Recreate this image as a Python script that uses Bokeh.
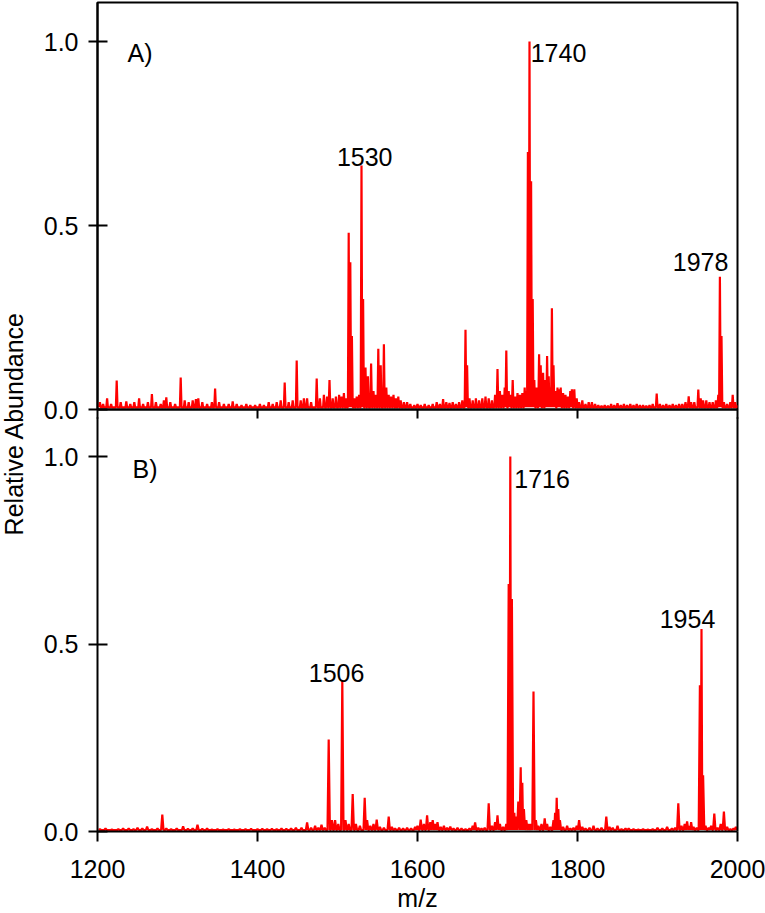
import math
from bokeh.plotting import figure
from bokeh.layouts import row, column
from bokeh.models import (Range1d, LinearAxis, NumeralTickFormatter, FixedTicker, Label,
                          CustomJSTickFormatter)
from bokeh.embed import file_html
from bokeh.resources import INLINE

# ---------------- data ----------------
x_ticks = [1200, 1400, 1600, 1800, 2000]
y_ticks = [0.0, 0.5, 1.0]
x_title = "m/z"
y_title = "Relative Abundance"

# Panel A peaks (m/z, relative abundance)
mz_a = [1203, 1207, 1212, 1217, 1224, 1229, 1236, 1241, 1246, 1252, 1257, 1263, 1268, 1273, 1279,
        1283, 1286, 1291, 1297, 1304, 1309, 1314, 1319, 1323, 1326, 1331, 1337, 1343, 1347, 1352,
        1358, 1364, 1369, 1374, 1380, 1386, 1391, 1397, 1403, 1408, 1414, 1419, 1424, 1429, 1434,
        1439, 1444, 1449, 1454, 1458, 1462, 1467, 1474, 1478, 1483, 1487, 1490, 1494, 1498, 1502,
        1505, 1508, 1511, 1514, 1516, 1518, 1521, 1524, 1527, 1530, 1532, 1535, 1538, 1542, 1545,
        1548, 1551, 1554, 1558, 1561, 1564, 1567, 1570, 1573, 1576, 1579, 1583, 1587, 1591, 1596,
        1600, 1604, 1609, 1614, 1619, 1624, 1628, 1632, 1636, 1640, 1644, 1648, 1652, 1656, 1660,
        1662, 1665, 1669, 1673, 1677, 1681, 1685, 1689, 1693, 1697, 1700, 1703, 1706, 1709, 1711,
        1714, 1716, 1719, 1722, 1725, 1728, 1731, 1734, 1736, 1738, 1740, 1742, 1744, 1746, 1749,
        1752, 1754, 1757, 1760, 1762, 1764, 1766, 1768, 1770, 1772, 1775, 1777, 1779, 1782, 1785,
        1788, 1791, 1793, 1796, 1799, 1802, 1806, 1810, 1814, 1818, 1822, 1826, 1830, 1834, 1838,
        1842, 1846, 1850, 1854, 1858, 1862, 1866, 1870, 1874, 1878, 1882, 1886, 1890, 1894, 1899,
        1903, 1907, 1911, 1915, 1919, 1923, 1927, 1931, 1935, 1939, 1942, 1946, 1951, 1954, 1957,
        1961, 1965, 1969, 1973, 1976, 1978, 1980, 1983, 1987, 1991, 1994, 1997, 2000]
int_a = [0.020, 0.015, 0.030, 0.015, 0.079, 0.020, 0.022, 0.015, 0.020, 0.030, 0.015, 0.020, 0.042, 0.020, 0.015,
         0.025, 0.033, 0.020, 0.015, 0.087, 0.025, 0.020, 0.025, 0.028, 0.030, 0.020, 0.015, 0.020, 0.057, 0.020,
         0.015, 0.015, 0.022, 0.015, 0.012, 0.015, 0.012, 0.012, 0.015, 0.012, 0.020, 0.015, 0.020, 0.025, 0.073,
         0.020, 0.025, 0.133, 0.025, 0.030, 0.030, 0.020, 0.084, 0.030, 0.040, 0.035, 0.080, 0.030, 0.035, 0.040,
         0.035, 0.045, 0.030, 0.480, 0.400, 0.200, 0.030, 0.035, 0.040, 0.663, 0.300, 0.114, 0.090, 0.125, 0.050,
         0.040, 0.165, 0.120, 0.177, 0.060, 0.040, 0.035, 0.040, 0.030, 0.035, 0.025, 0.020, 0.020, 0.015, 0.012,
         0.015, 0.012, 0.015, 0.012, 0.015, 0.020, 0.015, 0.028, 0.020, 0.018, 0.020, 0.015, 0.020, 0.025, 0.217,
         0.120, 0.030, 0.025, 0.030, 0.025, 0.030, 0.035, 0.030, 0.025, 0.040, 0.110, 0.050, 0.040, 0.060, 0.160,
         0.050, 0.040, 0.080, 0.035, 0.045, 0.040, 0.045, 0.060, 0.050, 0.700, 1.000, 0.620, 0.300, 0.080, 0.060,
         0.150, 0.120, 0.100, 0.080, 0.145, 0.090, 0.060, 0.275, 0.120, 0.050, 0.060, 0.055, 0.060, 0.045, 0.040,
         0.035, 0.050, 0.055, 0.055, 0.030, 0.020, 0.025, 0.015, 0.020, 0.020, 0.015, 0.012, 0.010, 0.012, 0.010,
         0.015, 0.012, 0.017, 0.012, 0.015, 0.012, 0.015, 0.012, 0.015, 0.012, 0.012, 0.010, 0.012, 0.015, 0.043,
         0.015, 0.012, 0.015, 0.012, 0.015, 0.012, 0.015, 0.015, 0.020, 0.036, 0.020, 0.020, 0.054, 0.030, 0.025,
         0.025, 0.020, 0.020, 0.025, 0.040, 0.361, 0.200, 0.020, 0.015, 0.020, 0.040, 0.020, 0.010]

# Panel B peaks (m/z, relative abundance)
mz_b = [1203, 1210, 1218, 1226, 1232, 1239, 1245, 1250, 1256, 1262, 1268, 1275, 1281, 1286, 1292,
        1299, 1307, 1313, 1319, 1325, 1331, 1337, 1343, 1350, 1357, 1364, 1371, 1378, 1385, 1392,
        1400, 1406, 1412, 1418, 1424, 1430, 1436, 1442, 1448, 1455, 1462, 1467, 1472, 1476, 1480,
        1484, 1489, 1493, 1497, 1501, 1506, 1510, 1514, 1519, 1523, 1528, 1534, 1537, 1541, 1545,
        1549, 1553, 1558, 1564, 1568, 1572, 1577, 1582, 1587, 1592, 1597, 1600, 1604, 1608, 1612,
        1616, 1619, 1622, 1625, 1629, 1633, 1637, 1641, 1645, 1650, 1655, 1660, 1665, 1669, 1672,
        1676, 1680, 1684, 1689, 1693, 1697, 1700, 1703, 1707, 1711, 1714, 1716, 1718, 1721, 1723,
        1726, 1729, 1731, 1733, 1736, 1739, 1742, 1745, 1748, 1751, 1755, 1759, 1762, 1766, 1770,
        1772, 1774, 1776, 1778, 1782, 1787, 1791, 1795, 1799, 1802, 1806, 1810, 1815, 1820, 1825,
        1830, 1836, 1840, 1844, 1850, 1855, 1860, 1864, 1870, 1876, 1882, 1888, 1894, 1900, 1906,
        1912, 1918, 1922, 1926, 1930, 1934, 1937, 1940, 1942, 1945, 1949, 1953, 1955, 1957, 1960,
        1964, 1967, 1971, 1975, 1979, 1983, 1987, 1991, 1995, 1998]
int_b = [0.006, 0.008, 0.005, 0.006, 0.008, 0.008, 0.006, 0.010, 0.008, 0.013, 0.006, 0.008, 0.045, 0.008, 0.006,
         0.008, 0.014, 0.007, 0.008, 0.018, 0.007, 0.008, 0.005, 0.006, 0.005, 0.006, 0.005, 0.006, 0.006, 0.007,
         0.006, 0.007, 0.006, 0.007, 0.006, 0.008, 0.007, 0.008, 0.010, 0.010, 0.024, 0.010, 0.015, 0.010, 0.018,
         0.010, 0.245, 0.030, 0.030, 0.020, 0.403, 0.030, 0.020, 0.100, 0.020, 0.015, 0.090, 0.030, 0.015, 0.020,
         0.032, 0.012, 0.010, 0.040, 0.012, 0.008, 0.010, 0.008, 0.010, 0.008, 0.012, 0.015, 0.032, 0.020, 0.043,
         0.025, 0.030, 0.020, 0.025, 0.012, 0.015, 0.010, 0.013, 0.008, 0.010, 0.008, 0.006, 0.008, 0.015, 0.024,
         0.010, 0.008, 0.010, 0.075, 0.015, 0.025, 0.043, 0.020, 0.012, 0.020, 0.660, 1.000, 0.620, 0.050, 0.040,
         0.080, 0.171, 0.130, 0.060, 0.030, 0.020, 0.020, 0.373, 0.030, 0.015, 0.020, 0.035, 0.020, 0.012, 0.030,
         0.050, 0.090, 0.060, 0.030, 0.012, 0.015, 0.008, 0.010, 0.015, 0.030, 0.012, 0.008, 0.010, 0.015, 0.008,
         0.010, 0.040, 0.012, 0.010, 0.015, 0.006, 0.008, 0.008, 0.006, 0.005, 0.006, 0.005, 0.006, 0.010, 0.008,
         0.012, 0.008, 0.010, 0.075, 0.015, 0.020, 0.027, 0.015, 0.025, 0.012, 0.010, 0.390, 0.540, 0.150, 0.015,
         0.010, 0.015, 0.048, 0.010, 0.020, 0.053, 0.012, 0.006, 0.008, 0.012]

# peak annotations
ann_a_text = ["1530", "1740", "1978"]
ann_a_mz = [1534.0, 1741.5, 1953.8]
ann_a_y = [0.685, 0.968, 0.400]
ann_a_align = ["center", "left", "center"]

ann_b_text = ["1506", "1716", "1954"]
ann_b_mz = [1498.8, 1721.0, 1937.5]
ann_b_y = [0.424, 0.939, 0.568]
ann_b_align = ["center", "left", "center"]

panel_tags = ["A)", "B)"]
panel_tag_mz = [1237.5, 1243.8]
panel_tag_y = [0.969, 0.967]

# ---------------- styling ----------------
FONT = "Liberation Sans"
FS = "25px"
RED = "#ff0000"


def trace(mz, inten, half, base):
    xs, ys = [], []
    n = len(mz)
    for i, (m, h) in enumerate(zip(mz, inten)):
        lo, hi = m - half, m + half
        if i > 0:
            lo = max(lo, (mz[i - 1] + m) / 2)
        if i < n - 1:
            hi = min(hi, (m + mz[i + 1]) / 2)
        xs += [lo, m, hi]
        ys += [base, h, base]
    return xs, ys


def style_axes(p, show_x_labels, x_tick_out):
    for ax in p.xaxis:
        ax.ticker = FixedTicker(ticks=x_ticks)
        ax.axis_line_width = 2
        ax.axis_line_color = "black"
        ax.major_tick_line_width = 2
        ax.major_tick_line_color = "black"
        ax.major_tick_in = 0
        ax.major_tick_out = x_tick_out
        ax.minor_tick_line_color = None
        if show_x_labels:
            ax.major_label_text_font = FONT
            ax.major_label_text_font_size = FS
            ax.major_label_text_color = "black"
            ax.major_label_standoff = 18
        else:
            ax.formatter = CustomJSTickFormatter(code="return ''")
            ax.major_label_text_font_size = "1px"
            ax.major_label_standoff = 0
    for ax in p.yaxis:
        ax.ticker = FixedTicker(ticks=y_ticks)
        ax.formatter = NumeralTickFormatter(format="0.0")
        ax.axis_line_width = 2
        ax.axis_line_color = "black"
        ax.major_tick_line_width = 2
        ax.major_tick_line_color = "black"
        ax.major_tick_in = 10
        ax.major_tick_out = 9
        ax.minor_tick_line_color = None
        ax.major_label_text_font = FONT
        ax.major_label_text_font_size = FS
        ax.major_label_text_color = "black"
        ax.major_label_standoff = 10
    p.xgrid.grid_line_color = None
    p.ygrid.grid_line_color = None


x_range = Range1d(1200, 2000)

# ---- top panel (A)
p1 = figure(x_range=x_range, y_range=Range1d(0, 1.106), frame_width=640, frame_height=407,
            min_border_left=61, min_border_right=28, min_border_top=2, min_border_bottom=15,
            toolbar_location=None, output_backend="svg", title=None)
p1.outline_line_color = "black"
p1.outline_line_width = 2
style_axes(p1, False, 9)
xa, ya = trace(mz_a, int_a, 1.0, 0.006)
p1.line(xa, ya, line_color=RED, line_width=2.2)
for t, m, y, al in zip(ann_a_text, ann_a_mz, ann_a_y, ann_a_align):
    p1.add_layout(Label(x=m, y=y, text=t, text_align=al, text_baseline="alphabetic",
                        text_font=FONT, text_font_size=FS, text_color="black"))
p1.add_layout(Label(x=panel_tag_mz[0], y=panel_tag_y[0], text=panel_tags[0], text_align="left",
                    text_baseline="middle", text_font=FONT, text_font_size=FS, text_color="black"))

# ---- bottom panel (B); overlaps the blank strip under panel A
p2 = figure(x_range=x_range, y_range=Range1d(0, 1.104), frame_width=640, frame_height=414,
            min_border_left=61, min_border_right=28, min_border_top=0, min_border_bottom=50,
            toolbar_location=None, output_backend="svg", title=None,
            styles={"margin-top": "-7px"})
p2.outline_line_color = None
p2.border_fill_color = None
p2.background_fill_color = None
style_axes(p2, True, 10)
ra = LinearAxis(axis_line_width=2, axis_line_color="black", ticker=FixedTicker(ticks=[]),
                major_tick_line_color=None, minor_tick_line_color=None, major_label_standoff=0)
p2.add_layout(ra, "right")
xb, yb = trace(mz_b, int_b, 1.5, 0.004)
p2.line(xb, yb, line_color=RED, line_width=2.2)
for t, m, y, al in zip(ann_b_text, ann_b_mz, ann_b_y, ann_b_align):
    p2.add_layout(Label(x=m, y=y, text=t, text_align=al, text_baseline="alphabetic",
                        text_font=FONT, text_font_size=FS, text_color="black"))
p2.add_layout(Label(x=panel_tag_mz[1], y=panel_tag_y[1], text=panel_tags[1], text_align="left",
                    text_baseline="middle", text_font=FONT, text_font_size=FS, text_color="black"))

# ---- strip holding the x-axis title
p3 = figure(x_range=x_range, y_range=Range1d(0, 32), frame_width=640, frame_height=32,
            min_border_left=61, min_border_right=28, min_border_top=0, min_border_bottom=0,
            toolbar_location=None, output_backend="svg", title=None)
p3.axis.visible = False
p3.xgrid.grid_line_color = None
p3.ygrid.grid_line_color = None
p3.outline_line_color = None
p3.border_fill_color = None
p3.background_fill_color = None
p3.add_layout(Label(x=1600, y=16, text=x_title, text_align="center", text_baseline="middle",
                    text_font=FONT, text_font_size=FS, text_color="black"))

# ---- shared y-axis title
H = 912
pl = figure(width=36, height=H, x_range=Range1d(0, 36), y_range=Range1d(0, H),
            min_border=0, toolbar_location=None, output_backend="svg", title=None)
pl.axis.visible = False
pl.xgrid.grid_line_color = None
pl.ygrid.grid_line_color = None
pl.outline_line_color = None
pl.add_layout(Label(x=13, y=H - 423, text=y_title, angle=math.pi / 2,
                    text_align="center", text_baseline="middle", text_font=FONT,
                    text_font_size=FS, text_color="black"))

layout = row(pl, column(p1, p2, p3))

open("out.html", "w").write(file_html(layout, INLINE))
